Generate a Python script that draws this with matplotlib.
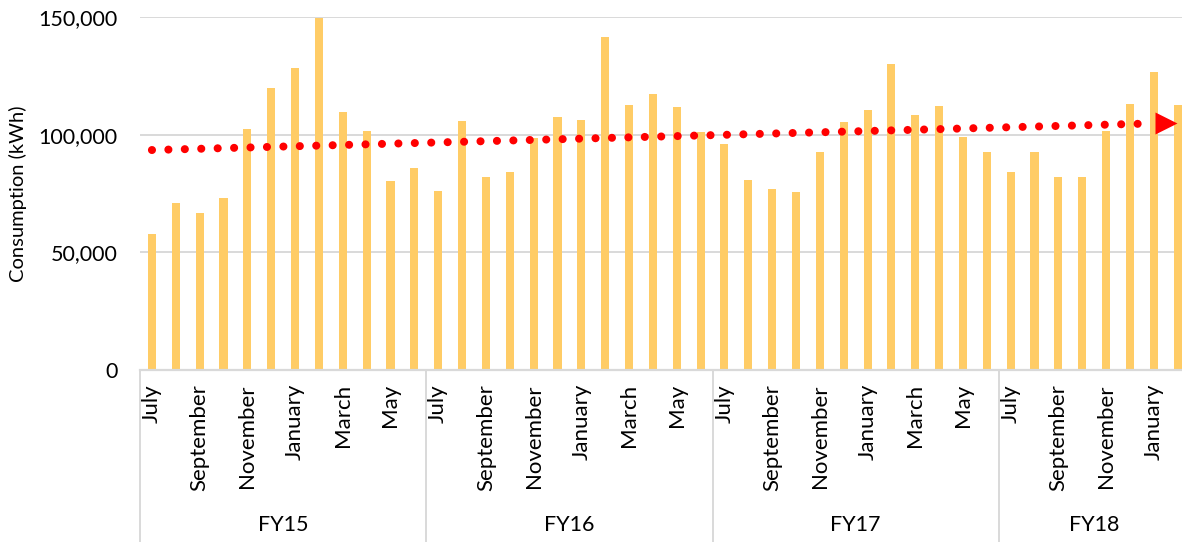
import numpy as np
import matplotlib.pyplot as plt
import matplotlib.transforms as mtransforms
from matplotlib.ticker import FuncFormatter

plt.rcParams['font.family'] = ['Lato', 'DejaVu Sans']

# monthly consumption, July FY15 .. February FY18 (kWh)
fy_names = ['FY15', 'FY16', 'FY17', 'FY18']
months = ['July', 'August', 'September', 'October', 'November', 'December',
          'January', 'February', 'March', 'April', 'May', 'June']
fy15 = [57900, 70900, 66800, 73200, 102500, 120000, 128400, 149500, 109500, 101600, 80500, 85900]
fy16 = [76000, 105800, 82100, 84000, 98700, 107500, 106400, 141500, 112600, 117100, 111900, 101300]
fy17 = [95900, 80900, 77000, 75600, 92800, 105400, 110500, 130100, 108500, 112300, 98900, 92700]
fy18 = [84300, 92700, 82200, 82200, 101700, 113000, 126700, 112600]

groups = [fy15, fy16, fy17, fy18]
values = np.array(fy15 + fy16 + fy17 + fy18, dtype=float)
x = np.arange(len(values))

fig = plt.figure(figsize=(11.82, 5.42), dpi=100)
W, H = 1182., 542.
ax_left, ax_right = 140., 1189.6
ax_bot, ax_top = 370., 17.
ax = fig.add_axes([ax_left / W, (H - ax_bot) / H,
                   (ax_right - ax_left) / W, (ax_bot - ax_top) / H])

ax.bar(x, values, width=0.34, color='#FFCC66', zorder=2)

# linear trend over the whole series
slope, icpt = np.polyfit(x, values, 1)
x_end = x[-1]
x_line = np.array([0, x_end - 1.0])
ax.plot(x_line, icpt + slope * x_line, color='#FF0000', lw=5.8,
        linestyle=(0, (0.01, 2.03)), dash_capstyle='round', zorder=3)
tri_x = x_end - 0.48
ax.plot([tri_x], [icpt + slope * tri_x], marker='>', ms=16.5,
        color='#FF0000', mec='none', zorder=3)

ax.set_xlim(-0.5, len(values) - 0.5)
ax.set_ylim(0, 150000)
ax.set_yticks([0, 50000, 100000, 150000])
ax.yaxis.set_major_formatter(FuncFormatter(lambda v, p: f'{int(v):,}'))
ax.tick_params(axis='y', length=0, pad=16, labelsize=15.5, labelcolor='#000000')
ax.set_xticks([])
ax.grid(axis='y', color='#D9D9D9', lw=1.4, zorder=0)
for s in ['top', 'right', 'left']:
    ax.spines[s].set_visible(False)
ax.spines['bottom'].set_color('#D9D9D9')
ax.spines['bottom'].set_linewidth(1.6)
ax.set_ylabel('Consumption (kWh)', fontsize=14.5, labelpad=8)

# two-level category axis: months and financial years
trans = mtransforms.blended_transform_factory(ax.transData, ax.transAxes)
drop = (H - ax_bot) / (ax_bot - ax_top)
start = 0
for name, g in zip(fy_names, groups):
    for i in range(0, len(g), 2):
        ax.annotate(months[i], xy=(start + i, 0), xycoords=trans,
                    xytext=(0, -14), textcoords='offset pixels',
                    rotation=90, ha='center', va='top', fontsize=16)
    ax.annotate(name, xy=(start + (len(g) - 1) / 2, 0), xycoords=trans,
                xytext=(0, -155), textcoords='offset pixels',
                ha='center', va='center', fontsize=15.5)
    ax.plot([start - 0.5, start - 0.5], [0, -drop], transform=trans,
            color='#D9D9D9', lw=1.4, clip_on=False)
    start += len(g)

fig.savefig('out.png', dpi=100)
